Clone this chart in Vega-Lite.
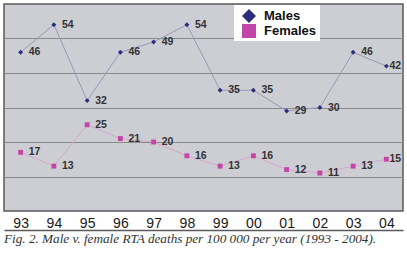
{
  "$schema": "https://vega.github.io/schema/vega-lite/v6.json",
  "width": 399,
  "height": 207,
  "autosize": {"type": "none"},
  "padding": {"left": 4, "top": 4, "right": 4, "bottom": 45},
  "background": "white",
  "config": {
    "view": {"fill": "#cdced3", "stroke": "#5a5a5a", "strokeWidth": 1.5},
    "font": "Liberation Sans"
  },
  "title": {
    "text": "Fig. 2. Male v. female RTA deaths per 100 000 per year (1993 - 2004).",
    "orient": "bottom",
    "anchor": "start",
    "font": "Liberation Serif",
    "fontStyle": "italic",
    "fontWeight": "normal",
    "fontSize": 13.2,
    "color": "#333333",
    "offset": 3
  },
  "data": {
    "values": [
      {"year": "93", "series": "Males", "value": 46},
      {"year": "94", "series": "Males", "value": 54},
      {"year": "95", "series": "Males", "value": 32},
      {"year": "96", "series": "Males", "value": 46},
      {"year": "97", "series": "Males", "value": 49},
      {"year": "98", "series": "Males", "value": 54},
      {"year": "99", "series": "Males", "value": 35},
      {"year": "00", "series": "Males", "value": 35},
      {"year": "01", "series": "Males", "value": 29},
      {"year": "02", "series": "Males", "value": 30},
      {"year": "03", "series": "Males", "value": 46},
      {"year": "04", "series": "Males", "value": 42},
      {"year": "93", "series": "Females", "value": 17},
      {"year": "94", "series": "Females", "value": 13},
      {"year": "95", "series": "Females", "value": 25},
      {"year": "96", "series": "Females", "value": 21},
      {"year": "97", "series": "Females", "value": 20},
      {"year": "98", "series": "Females", "value": 16},
      {"year": "99", "series": "Females", "value": 13},
      {"year": "00", "series": "Females", "value": 16},
      {"year": "01", "series": "Females", "value": 12},
      {"year": "02", "series": "Females", "value": 11},
      {"year": "03", "series": "Females", "value": 13},
      {"year": "04", "series": "Females", "value": 15}
    ]
  },
  "encoding": {
    "x": {
      "field": "year",
      "type": "ordinal",
      "sort": null,
      "scale": {"type": "point", "padding": 0.5},
      "axis": {
        "title": null,
        "orient": "bottom",
        "offset": 19,
        "domain": true,
        "domainColor": "#5a5a5a",
        "domainWidth": 1.5,
        "ticks": false,
        "tickSize": 0,
        "grid": false,
        "labelAngle": 0,
        "labelBaseline": "alphabetic",
        "labelPadding": -3,
        "labelFont": "Liberation Sans",
        "labelFontSize": 14,
        "labelColor": "#1a1a1a"
      }
    },
    "y": {
      "field": "value",
      "type": "quantitative",
      "scale": {"domain": [0, 60], "nice": false},
      "axis": {
        "title": null,
        "domain": false,
        "ticks": false,
        "labels": false,
        "values": [10, 20, 30, 40, 50],
        "grid": true,
        "gridColor": "#8a8a8a",
        "gridWidth": 1
      }
    }
  },
  "layer": [
    {
      "transform": [{"filter": "datum.series === 'Males'"}],
      "mark": {"type": "line", "strokeWidth": 1, "stroke": "#9898b8"},
      "encoding": {}
    },
    {
      "transform": [{"filter": "datum.series === 'Females'"}],
      "mark": {"type": "line", "strokeWidth": 1, "stroke": "#d9a6cf"},
      "encoding": {}
    },
    {
      "mark": {"type": "point", "filled": true, "size": 24, "opacity": 1},
      "encoding": {
        "color": {
          "field": "series",
          "type": "nominal",
          "scale": {"domain": ["Males", "Females"], "range": ["#2c2c7c", "#c445a8"]},
          "legend": {
            "orient": "none",
            "legendX": 230,
            "legendY": 1,
            "title": "\u00a0\u00a0\u00a0\u00a0\u00a0\u00a0\u00a0\u00a0\u00a0\u00a0",
            "titleOrient": "left",
            "titleFontSize": 13,
            "titlePadding": 4,
            "fillColor": "white",
            "padding": 3,
            "symbolSize": 196,
            "labelOffset": 7,
            "rowPadding": 0,
            "labelFont": "Liberation Sans",
            "labelFontWeight": "bold",
            "labelFontSize": 13,
            "labelColor": "#111111",
            "labelExpr": "datum.label + '\u00a0\u00a0\u00a0\u00a0\u00a0\u00a0\u00a0\u00a0\u00a0\u00a0'",
            "encode": {
              "legend": {"update": {"fill": {"value": "white"}}},
              "symbols": {
                "update": {
                  "shape": {
                    "condition": {"test": "datum.value === 'Males'", "value": "M-1.7,0H1.7M0,-0.43L0.43,0L0,0.43L-0.43,0Z"},
                    "value": "M-1.7,0H1.7M-0.36,-0.36H0.36V0.36H-0.36Z"
                  },
                  "stroke": {
                    "condition": {"test": "datum.value === 'Males'", "value": "#6a6a9a"},
                    "value": "#d9a6cf"
                  },
                  "strokeWidth": {"value": 1}
                }
              }
            }
          }
        },
        "shape": {
          "field": "series",
          "type": "nominal",
          "scale": {"domain": ["Males", "Females"], "range": ["diamond", "square"]},
          "legend": {
            "orient": "none",
            "legendX": 230,
            "legendY": 1,
            "title": "\u00a0\u00a0\u00a0\u00a0\u00a0\u00a0\u00a0\u00a0\u00a0\u00a0",
            "titleOrient": "left",
            "titleFontSize": 13,
            "titlePadding": 4,
            "fillColor": "white",
            "padding": 3,
            "symbolSize": 196,
            "labelOffset": 7,
            "rowPadding": 0,
            "labelFont": "Liberation Sans",
            "labelFontWeight": "bold",
            "labelFontSize": 13,
            "labelColor": "#111111",
            "labelExpr": "datum.label + '\u00a0\u00a0\u00a0\u00a0\u00a0\u00a0\u00a0\u00a0\u00a0\u00a0'",
            "encode": {
              "legend": {"update": {"fill": {"value": "white"}}},
              "symbols": {
                "update": {
                  "shape": {
                    "condition": {"test": "datum.value === 'Males'", "value": "M-1.7,0H1.7M0,-0.43L0.43,0L0,0.43L-0.43,0Z"},
                    "value": "M-1.7,0H1.7M-0.36,-0.36H0.36V0.36H-0.36Z"
                  },
                  "stroke": {
                    "condition": {"test": "datum.value === 'Males'", "value": "#6a6a9a"},
                    "value": "#d9a6cf"
                  },
                  "strokeWidth": {"value": 1}
                }
              }
            }
          }
        }
      }
    },
    {
      "transform": [{"filter": "datum.year !== '04'"}],
      "mark": {"type": "text", "align": "left", "baseline": "middle", "dx": 8, "font": "Liberation Sans", "fontWeight": "bold", "fontSize": 10.5, "color": "#333333"},
      "encoding": {"text": {"field": "value", "type": "quantitative"}}
    },
    {
      "transform": [{"filter": "datum.year === '04'"}],
      "mark": {"type": "text", "align": "left", "baseline": "middle", "dx": 3, "font": "Liberation Sans", "fontWeight": "bold", "fontSize": 10.5, "color": "#333333"},
      "encoding": {"text": {"field": "value", "type": "quantitative"}}
    }
  ]
}
